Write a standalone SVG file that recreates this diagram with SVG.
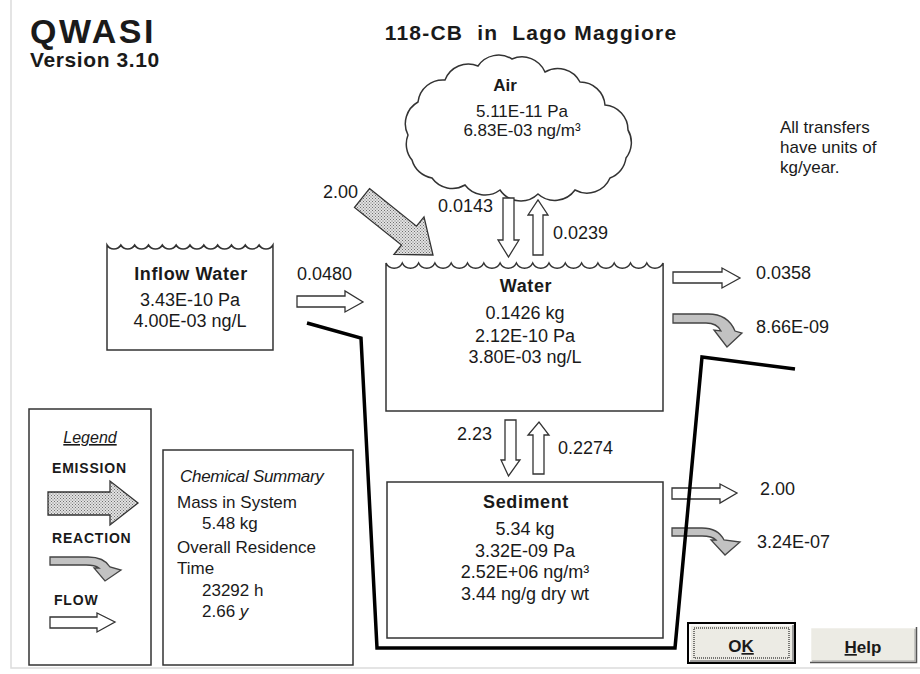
<svg xmlns="http://www.w3.org/2000/svg" width="920" height="674" viewBox="0 0 920 674">
<defs>
<pattern id="dots" width="3" height="3" patternUnits="userSpaceOnUse">
<rect width="3" height="3" fill="#e2e2e2"/>
<rect x="0" y="0" width="1" height="1" fill="#707070"/>
<rect x="1.5" y="1.5" width="1" height="1" fill="#707070"/>
</pattern>
</defs>
<style>
text{font-family:"Liberation Sans",Arial,sans-serif;fill:#1a1a1a}
.box{fill:#fff;stroke:#333;stroke-width:1.5}
.flow{fill:#fff;stroke:#333;stroke-width:1.3}
.react{fill:#c2c2c2;stroke:#444;stroke-width:1.3}
.emis{fill:url(#dots);stroke:#333;stroke-width:1.3}
.n{font-size:18px}
.s{font-size:17px}
.c{text-anchor:middle}
.b{font-weight:bold}
.i{font-style:italic}
.lake{fill:none;stroke:#000;stroke-width:3.5;stroke-linejoin:miter}
.btn{fill:#ecebe4}
</style>
<rect width="920" height="674" fill="#fff"/>
<path d="M11,0 V668 H920" fill="none" stroke="#dcdcdc" stroke-width="1.5"/>

<g id="title">
<text x="30" y="43" font-size="34" class="b" letter-spacing="2.5">QWASI</text>
<text x="30" y="67" font-size="21" class="b" letter-spacing="0.6">Version 3.10</text>
<text x="531" y="40" font-size="21" class="b c" letter-spacing="1.2" style="white-space:pre">118-CB  in  Lago Maggiore</text>
</g>

<g id="note">
<text x="780" y="133" class="s">All transfers</text>
<text x="780" y="153" class="s">have units of</text>
<text x="780" y="173" class="s">kg/year.</text>
</g>

<g id="air">
<path class="box" d="M408,135 A25,25 0 0 1 418,102 A25,25 0 0 1 445,80 A25,25 0 0 1 478,66 A25,25 0 0 1 512,59 A25,25 0 0 1 545,72 A25,25 0 0 1 580,82 A25,25 0 0 1 605,105 A25,25 0 0 1 628,130 A25,25 0 0 1 626,158 A25,25 0 0 1 610,178 A25,25 0 0 1 575,190 A25,25 0 0 1 538,194 A25,25 0 0 1 500,190 A25,25 0 0 1 465,185 A25,25 0 0 1 432,178 A25,25 0 0 1 412,160 A25,25 0 0 1 408,135 Z"/>
<text x="505" y="91" class="s b c">Air</text>
<text x="522" y="117" class="s c">5.11E-11 Pa</text>
<text x="522" y="136" class="s c">6.83E-03 ng/m³</text>
</g>

<g id="inflow">
<path class="box" d="M107,245 a8,8 0 0 0 13.83,0 a8,8 0 0 0 13.83,0 a8,8 0 0 0 13.83,0 a8,8 0 0 0 13.83,0 a8,8 0 0 0 13.83,0 a8,8 0 0 0 13.83,0 a8,8 0 0 0 13.83,0 a8,8 0 0 0 13.83,0 a8,8 0 0 0 13.83,0 a8,8 0 0 0 13.83,0 a8,8 0 0 0 13.83,0 a8,8 0 0 0 13.83,0 L273,350 L107,350 Z"/>
<text x="191" y="280" class="n b c" letter-spacing="0.6">Inflow Water</text>
<text x="190" y="306" class="n c">3.43E-10 Pa</text>
<text x="190" y="327" class="n c">4.00E-03 ng/L</text>
</g>

<g id="water">
<path class="box" d="M386,263 a9,9 0 0 0 16.3,0 a9,9 0 0 0 16.3,0 a9,9 0 0 0 16.3,0 a9,9 0 0 0 16.3,0 a9,9 0 0 0 16.3,0 a9,9 0 0 0 16.3,0 a9,9 0 0 0 16.3,0 a9,9 0 0 0 16.3,0 a9,9 0 0 0 16.3,0 a9,9 0 0 0 16.3,0 a9,9 0 0 0 16.3,0 a9,9 0 0 0 16.3,0 a9,9 0 0 0 16.3,0 a9,9 0 0 0 16.3,0 a9,9 0 0 0 16.3,0 a9,9 0 0 0 16.3,0 a9,9 0 0 0 16.3,0 L663,411 L386,411 Z"/>
<text x="526" y="292" class="n b c" letter-spacing="0.6">Water</text>
<text x="525" y="319" class="n c">0.1426 kg</text>
<text x="525" y="342" class="n c">2.12E-10 Pa</text>
<text x="525" y="363" class="n c">3.80E-03 ng/L</text>
</g>

<g id="sediment">
<rect class="box" x="387" y="482" width="276" height="156"/>
<text x="526" y="508" class="n b c" letter-spacing="0.6">Sediment</text>
<text x="525" y="535" class="n c">5.34 kg</text>
<text x="525" y="557" class="n c">3.32E-09 Pa</text>
<text x="525" y="578" class="n c">2.52E+06 ng/m³</text>
<text x="525" y="600" class="n c">3.44 ng/g dry wt</text>
</g>

<g id="connectors">
<polygon class="emis" points="369.5,188.6 416.5,226.2 424,216.9 433,255 394,254.3 401.5,245 354.5,207.4"/>
<text x="323" y="198" class="n">2.00</text>
<polygon class="flow" points="297,296 345,296 345,291 363,302 345,312 345,307 297,307"/>
<text x="297" y="280" class="n">0.0480</text>
<polygon class="flow" points="503,198 514,198 514,240 519,240 508.5,257 498,240 503,240"/>
<text x="438" y="212" class="n">0.0143</text>
<polygon class="flow" points="533,255 543,255 543,215 548,215 538,200 528,215 533,215"/>
<text x="553" y="239" class="n">0.0239</text>
<polygon class="flow" points="673,272 722,272 722,268 740,278 722,288 722,283 673,283"/>
<text x="756" y="279" class="n">0.0358</text>
<path class="react" d="M673,314 L708,314 Q728,314 735,331 L742,333 L727,347 L714,330 L721,331 Q717,323 706,323 L673,323 Z"/>
<text x="756" y="333" class="n">8.66E-09</text>
<polygon class="flow" points="505,420 516,420 516,460 520,460 508.5,476 501,460 505,460"/>
<text x="457" y="440" class="n">2.23</text>
<polygon class="flow" points="533,474 544,474 544,435 549,435 539,422 528,435 533,435"/>
<text x="558" y="454" class="n">0.2274</text>
<polygon class="flow" points="672,488 720,488 720,484 737,493 720,503 720,499 672,499"/>
<text x="760" y="495" class="n">2.00</text>
<path class="react" d="M672,528 L702,528 Q718,528 724,540 L740,542 L725,555 L711,540 L716,540 Q712,536 702,536 L672,536 Z"/>
<text x="757" y="548" class="n">3.24E-07</text>
</g>

<g id="lake">
<polyline class="lake" points="307,323 361,338 377,648 675,648 702,357 795,369"/>
</g>

<g id="legend">
<rect class="box" x="29" y="409" width="122" height="256"/>
<text x="90" y="443" font-size="16" class="i c" text-decoration="underline">Legend</text>
<text x="52" y="473" font-size="14" class="b" letter-spacing="0.8">EMISSION</text>
<polygon class="emis" points="48,492 110,492 110,481 138,503 110,525 110,515 48,515"/>
<text x="52" y="543" font-size="14" class="b" letter-spacing="0.8">REACTION</text>
<path class="react" d="M50,557 L88,557 Q104,557 110,567 L121,570 L105,581 L94,568 L99,568 Q95,565 86,565 L50,565 Z"/>
<text x="54" y="605" font-size="14" class="b" letter-spacing="0.8">FLOW</text>
<polygon class="flow" points="50,617 97,617 97,613 115,622 97,632 97,628 50,628"/>
</g>

<g id="summary">
<rect class="box" x="163" y="450" width="190" height="215"/>
<text x="180" y="482" class="s i" letter-spacing="-0.3">Chemical Summary</text>
<text x="177" y="508" class="s">Mass in System</text>
<text x="202" y="529" class="s">5.48 kg</text>
<text x="177" y="553" class="s">Overall Residence</text>
<text x="177" y="574" class="s">Time</text>
<text x="202" y="596" class="s">23292 h</text>
<text x="202" y="617" class="s">2.66 <tspan class="i">y</tspan></text>
</g>

<g id="ok-button">
<rect class="btn" x="688" y="623" width="107" height="40" stroke="#000" stroke-width="2"/>
<path d="M690,661 V625 H793" fill="none" stroke="#fff" stroke-width="1.5"/>
<path d="M690,661 H793 V625" fill="none" stroke="#808080" stroke-width="1.5"/>
<rect x="694" y="628" width="95" height="30" fill="none" stroke="#000" stroke-width="1" stroke-dasharray="1 1"/>
<text x="741" y="652" font-size="17" class="b c">O<tspan text-decoration="underline">K</tspan></text>
</g>

<g id="help-button">
<rect class="btn" x="810" y="627" width="107" height="36"/>
<path d="M810.5,662.5 V627.5 H916.5" fill="none" stroke="#fff" stroke-width="1.5"/>
<path d="M810,662.5 H916.5 V627" fill="none" stroke="#555" stroke-width="1.5"/>
<path d="M812,661 H915 V629" fill="none" stroke="#a0a0a0" stroke-width="1"/>
<text x="863" y="653" font-size="17" class="b c"><tspan text-decoration="underline">H</tspan>elp</text>
</g>
</svg>
